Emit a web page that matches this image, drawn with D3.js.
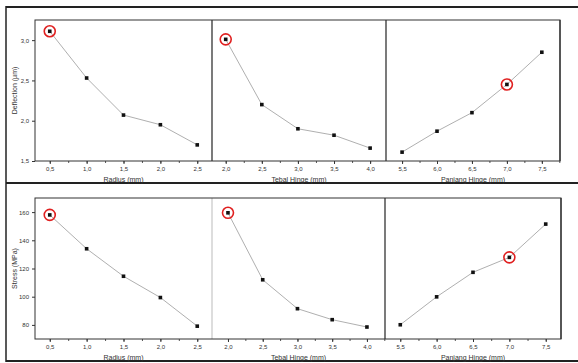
<!DOCTYPE html>
<html>
<head>
<meta charset="utf-8">
<script src="https://cdn.jsdelivr.net/npm/d3@7"></script>
<style>
  body { margin: 0; background: #fff; }
  svg { font-family: "Liberation Sans", Arial, sans-serif; }
</style>
</head>
<body>
<script>
// chart size
const w = 578;
const h = 363;

// x values per column
const radius = [0.5, 1.0, 1.5, 2.0, 2.5];
const tebal = [2.0, 2.5, 3.0, 3.5, 4.0];
const panjang = [5.5, 6.0, 6.5, 7.0, 7.5];

// deflection (um)
const deflRadius = [3.11, 2.53, 2.07, 1.95, 1.70];
const deflTebal = [3.01, 2.20, 1.90, 1.82, 1.66];
const deflPanjang = [1.61, 1.87, 2.10, 2.45, 2.85];

// stress (MPa)
const stressRadius = [158, 134, 114.5, 99.4, 79.1];
const stressTebal = [159.5, 112, 91.5, 83.7, 78.5];
const stressPanjang = [80.1, 99.9, 117.3, 127.9, 151.5];

// highlighted point in each column
const highlight = [0, 0, 3];

const xTitles = ["Radius (mm)", "Tebal Hinge (mm)", "Panjang Hinge (mm)"];
const deflTicks = [1.5, 2.0, 2.5, 3.0];
const stressTicks = [80, 100, 120, 140, 160];

const fmt = (d) => d3.format(".1f")(d).replace(".", ",");

const svg = d3.select("body").append("svg").attr("width", w).attr("height", h);

// outer frame
const frame = svg.append("g").attr("stroke", "#222").attr("fill", "none");
frame.append("line").attr("x1", 6).attr("x2", w).attr("y1", 7).attr("y2", 7).attr("stroke-width", 2);
frame.append("line").attr("x1", 6).attr("x2", w).attr("y1", 183).attr("y2", 183).attr("stroke-width", 2);
frame.append("line").attr("x1", 6).attr("x2", w).attr("y1", 361).attr("y2", 361).attr("stroke-width", 2);
frame.append("line").attr("x1", 6).attr("x2", 6).attr("y1", 6).attr("y2", 362).attr("stroke-width", 1.5);

function drawRow(cfg) {
  const g = svg.append("g");
  const yScale = d3.scaleLinear().domain(cfg.yDomain).range([cfg.bottom, cfg.top]);

  // y axis
  g.append("g")
    .attr("transform", `translate(${cfg.cols[0].range[0]},0)`)
    .call(d3.axisLeft(yScale).tickValues(cfg.yTicks).tickSize(3).tickFormat(cfg.yFormat))
    .call((a) => a.select(".domain").remove())
    .call((a) => a.selectAll("line").attr("stroke", "#333"))
    .call((a) => a.selectAll("text").attr("font-size", 6).attr("fill", "#333").attr("font-family", null));
  g.append("text")
    .attr("transform", `translate(17,${(cfg.top + cfg.bottom) / 2}) rotate(-90)`)
    .attr("text-anchor", "middle")
    .attr("font-size", 7)
    .attr("fill", "#333")
    .text(cfg.yTitle);

  cfg.cols.forEach((c, i) => {
    const xScale = d3.scaleLinear().domain(c.domain).range(c.range);
    const minor = d3.range(c.xs[0] - 0.25, c.xs[4] + 0.3, 0.25).filter((v) => v > c.domain[0] && v < c.domain[1]);

    g.append("g")
      .attr("transform", `translate(0,${cfg.bottom})`)
      .call(d3.axisBottom(xScale).tickValues(minor).tickSize(2).tickFormat(""))
      .call((a) => a.select(".domain").remove())
      .call((a) => a.selectAll("line").attr("stroke", "#555"));
    g.append("g")
      .attr("transform", `translate(0,${cfg.bottom})`)
      .call(d3.axisBottom(xScale).tickValues(c.xs).tickSize(3).tickPadding(3).tickFormat(fmt))
      .call((a) => a.select(".domain").remove())
      .call((a) => a.selectAll("line").attr("stroke", "#333"))
      .call((a) => a.selectAll("text").attr("font-size", 6).attr("fill", "#333").attr("font-family", null));

    g.append("text")
      .attr("x", (c.range[0] + c.range[1]) / 2)
      .attr("y", cfg.bottom + 21)
      .attr("text-anchor", "middle")
      .attr("font-size", 7)
      .attr("fill", "#333")
      .text(xTitles[i]);

    const pts = c.xs.map((x, j) => [x, c.ys[j]]);
    g.append("path")
      .datum(pts)
      .attr("fill", "none")
      .attr("stroke", "#9a9a9a")
      .attr("stroke-width", 0.8)
      .attr("d", d3.line().x((d) => xScale(d[0])).y((d) => yScale(d[1])));

    g.selectAll(null)
      .data(pts)
      .enter()
      .append("rect")
      .attr("x", (d) => xScale(d[0]) - 1.8)
      .attr("y", (d) => yScale(d[1]) - 1.8)
      .attr("width", 3.6)
      .attr("height", 3.6)
      .attr("fill", "#111");

    const hp = pts[highlight[i]];
    g.append("circle")
      .attr("cx", xScale(hp[0]))
      .attr("cy", yScale(hp[1]))
      .attr("r", 5.5)
      .attr("fill", "none")
      .attr("stroke", "#e02020")
      .attr("stroke-width", 1.6);

    // divider / right border
    g.append("line")
      .attr("x1", c.range[1]).attr("x2", c.range[1])
      .attr("y1", cfg.top).attr("y2", cfg.bottom)
      .attr("stroke", i === 0 ? cfg.firstDivider : "#333")
      .attr("stroke-width", i === 0 ? cfg.firstDividerWidth : 1.3);
  });

  const x0 = cfg.cols[0].range[0];
  const x1 = cfg.cols[2].range[1];
  g.append("rect")
    .attr("x", x0).attr("y", cfg.top)
    .attr("width", x1 - x0).attr("height", cfg.bottom - cfg.top)
    .attr("fill", "none").attr("stroke", "#333").attr("stroke-width", 1);
}

drawRow({
  top: 20,
  bottom: 161,
  yDomain: [1.5, 3.25],
  yTicks: deflTicks,
  yFormat: fmt,
  yTitle: "Deflection (µm)",
  firstDivider: "#333",
  firstDividerWidth: 1.3,
  cols: [
    { xs: radius, ys: deflRadius, domain: [0.3, 2.7], range: [35, 212] },
    { xs: tebal, ys: deflTebal, domain: [1.81, 4.22], range: [212, 386] },
    { xs: panjang, ys: deflPanjang, domain: [5.27, 7.76], range: [386, 560] },
  ],
});

drawRow({
  top: 198,
  bottom: 339,
  yDomain: [70, 170],
  yTicks: stressTicks,
  yFormat: d3.format("d"),
  yTitle: "Stress (MPa)",
  firstDivider: "#aaa",
  firstDividerWidth: 0.8,
  cols: [
    { xs: radius, ys: stressRadius, domain: [0.3, 2.7], range: [35, 212] },
    { xs: tebal, ys: stressTebal, domain: [1.77, 4.26], range: [212, 385] },
    { xs: panjang, ys: stressPanjang, domain: [5.29, 7.71], range: [385, 561] },
  ],
});
</script>
</body>
</html>
